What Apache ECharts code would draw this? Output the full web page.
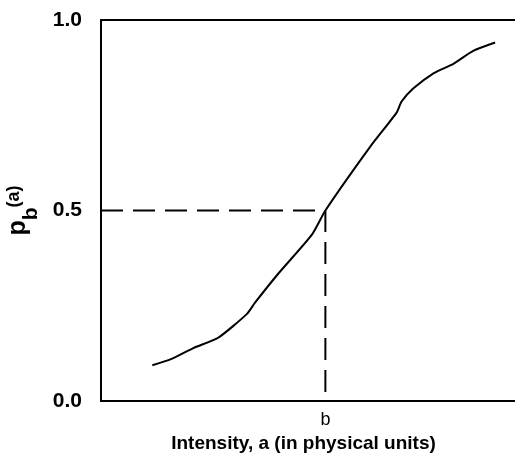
<!DOCTYPE html>
<html>
<head>
<meta charset="utf-8">
<script src="https://cdn.jsdelivr.net/npm/echarts@6/dist/echarts.min.js"></script>
<style>
  html, body { margin: 0; padding: 0; background: #fff; }
  #chart { width: 515px; height: 457px; }
</style>
</head>
<body>
<div id="chart"></div>
<script>
// psychometric curve (x in arbitrary intensity units 0..100)
const curveX = [12.4, 16.9, 22.3, 28.3, 35.2, 37.2, 42.8, 50.9, 54.2, 65.0, 71.4, 72.6, 75.4, 80.3, 85.1, 89.9, 95.2];
const curveY = [0.094, 0.110, 0.139, 0.166, 0.228, 0.258, 0.334, 0.436, 0.5, 0.667, 0.757, 0.786, 0.820, 0.860, 0.885, 0.919, 0.941];

const B_VALUE = 54.2;      // threshold intensity "b"
const HALF = 0.5;          // p_b(b)
const yTicks = [0, 0.5, 1];
const yTickLabels = ["0.0", "0.5", "1.0"];

const FONT = "Liberation Sans, Arial, Helvetica, sans-serif";

const chart = echarts.init(document.getElementById("chart"));
chart.setOption({
  animation: false,
  grid: { left: 101, right: 0, top: 20, bottom: 56, outerBoundsMode: "none" },
  xAxis: [{
    type: "value",
    min: 0,
    max: 100,
    position: "bottom",
    name: "Intensity, a (in physical units)",
    nameLocation: "middle",
    nameGap: 30,
    nameTextStyle: { color: "#000", fontFamily: FONT, fontWeight: "bold", fontSize: 19, padding: [0, 9, 0, 0] },
    axisLine: { show: true, lineStyle: { color: "#000", width: 2 } },
    axisTick: { show: false },
    splitLine: { show: false },
    axisLabel: {
      customValues: [B_VALUE],
      formatter: () => "b",
      color: "#000", fontFamily: FONT, fontSize: 18, margin: 10
    }
  }, {
    type: "value",
    min: 0,
    max: 100,
    position: "top",
    axisLine: { show: true, lineStyle: { color: "#000", width: 2 } },
    axisTick: { show: false },
    axisLabel: { show: false },
    splitLine: { show: false }
  }],
  yAxis: {
    type: "value",
    min: 0,
    max: 1,
    name: "{p|p}{b|b}{a|(a)}",
    nameLocation: "middle",
    nameRotate: 90,
    nameGap: 58,
    nameTextStyle: {
      color: "#000", fontFamily: FONT, fontWeight: "bold",
      rich: {
        p: { fontFamily: FONT, fontWeight: "bold", fontSize: 25, lineHeight: 28, color: "#000" },
        b: { fontFamily: FONT, fontWeight: "bold", fontSize: 21, lineHeight: 22, padding: [26, 0, 0, 0], color: "#000" },
        a: { fontFamily: FONT, fontWeight: "bold", fontSize: 18, lineHeight: 20, padding: [0, 0, 8, 0], color: "#000" }
      }
    },
    axisLine: { show: true, lineStyle: { color: "#000", width: 2 } },
    axisTick: { show: false },
    splitLine: { show: false },
    axisLabel: {
      customValues: yTicks,
      formatter: v => yTickLabels[yTicks.indexOf(v)],
      color: "#000", fontFamily: FONT, fontWeight: "bold", fontSize: 21, margin: 19
    }
  },
  series: [{
    type: "line",
    data: curveX.map((x, i) => [x, curveY[i]]),
    smooth: 0.2,
    showSymbol: false,
    lineStyle: { color: "#000", width: 2 },
    z: 3
  }, {
    type: "line",
    data: [[0, HALF], [B_VALUE, HALF], [B_VALUE, 0]],
    showSymbol: false,
    lineStyle: { color: "#000", width: 2, type: [22, 10] },
    z: 2
  }]
});
</script>
</body>
</html>
